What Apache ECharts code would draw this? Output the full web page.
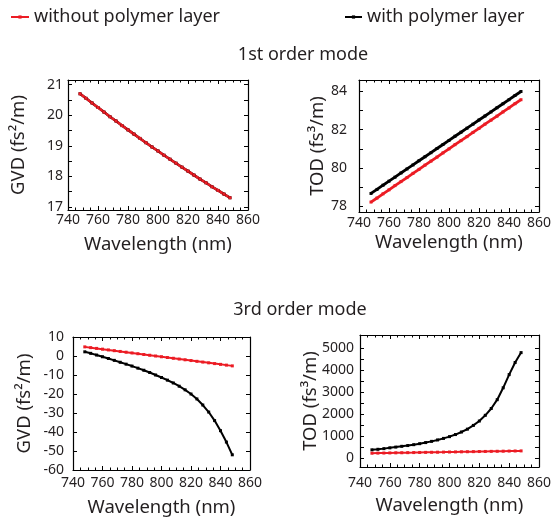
<!DOCTYPE html>
<html><head><meta charset="utf-8">
<script src="https://cdn.jsdelivr.net/npm/echarts@6/dist/echarts.min.js"></script>
<style>html,body{margin:0;padding:0;background:#fff}#c{width:554px;height:522px}</style>
</head><body><div id="c"></div>
<script>
// Wavelength (nm)
const wavelength = [748,752,756,760,764,768,772,776,780,784,788,792,796,800,804,808,812,816,820,824,828,832,836,840,844,848];
// 1st order mode GVD (fs^2/m)
const gvd1Without = [20.70,20.55,20.40,20.25,20.10,19.95,19.81,19.66,19.52,19.38,19.24,19.10,18.96,18.83,18.69,18.56,18.43,18.30,18.17,18.04,17.91,17.79,17.66,17.54,17.42,17.30];
const gvd1With    = [20.70,20.55,20.40,20.25,20.10,19.95,19.81,19.66,19.52,19.38,19.24,19.10,18.96,18.83,18.69,18.56,18.43,18.30,18.17,18.04,17.91,17.79,17.66,17.54,17.42,17.30];
// 1st order mode TOD (fs^3/m)
const tod1Without = [78.22,78.43,78.65,78.86,79.08,79.29,79.50,79.72,79.93,80.15,80.36,80.57,80.79,81.00,81.22,81.43,81.64,81.86,82.07,82.29,82.50,82.71,82.93,83.14,83.36,83.57];
const tod1With    = [78.67,78.88,79.10,79.31,79.52,79.74,79.95,80.16,80.38,80.59,80.80,81.02,81.23,81.44,81.66,81.87,82.08,82.29,82.51,82.72,82.93,83.15,83.36,83.57,83.79,84.00];
// 3rd order mode GVD (fs^2/m)
const gvd3Without = [4.8,4.4,4.0,3.6,3.2,2.8,2.4,2.0,1.6,1.2,0.8,0.4,0.0,-0.4,-0.8,-1.2,-1.6,-2.0,-2.4,-2.8,-3.2,-3.6,-4.0,-4.4,-4.8,-5.2];
const gvd3With    = [2.2,1.4,0.5,-0.4,-1.3,-2.3,-3.3,-4.3,-5.3,-6.4,-7.5,-8.7,-10.0,-11.3,-12.7,-14.2,-15.9,-17.8,-20.0,-22.6,-25.8,-29.5,-34.0,-39.3,-45.3,-52.0];
// 3rd order mode TOD (fs^3/m)
const tod3Without = [227,231,235,240,244,248,252,256,261,265,269,273,277,282,286,290,294,298,303,307,311,315,319,324,328,332];
const tod3With    = [380,405,435,470,505,540,575,615,660,710,765,830,900,980,1075,1190,1320,1490,1690,1950,2260,2660,3200,3800,4350,4800];
// Tick labels
const xTicks = [740,760,780,800,820,840,860];
const gvd1Ticks = [17,18,19,20,21];
const tod1Ticks = [78,80,82,84];
const gvd3Ticks = [-60,-50,-40,-30,-20,-10,0,10];
const tod3Ticks = [0,1000,2000,3000,4000,5000];

const labels = {
  without: 'without polymer layer',
  withP: 'with polymer layer',
  title1: '1st order mode',
  title3: '3rd order mode',
  xName: 'Wavelength (nm)',
  gvdName: 'GVD (fs²/m)',
  todName: 'TOD (fs³/m)'
};

const FONT = 'Noto Sans';
const TXT = '#231f20';
const RED = '#ec1c24';
const BLK = '#000000';

const grids = [
  {left:68, top:80, width:180, height:130},
  {left:359, top:80, width:180, height:132},
  {left:73, top:337, width:177, height:133},
  {left:360, top:335, width:180, height:132}
];
const yCfg = [
  {min:16.9, max:21.15, ticks:gvd1Ticks, minor:[17.5,18.5,19.5,20.5], name:labels.gvdName, gap:40, margin:5},
  {min:77.7, max:84.6, ticks:tod1Ticks, minor:[79,81,83], name:labels.todName, gap:32, margin:12},
  {min:-60, max:10, ticks:gvd3Ticks, minor:[], name:labels.gvdName, gap:39, margin:9},
  {min:-400, max:5600, ticks:tod3Ticks, minor:[500,1500,2500,3500,4500], name:labels.todName, gap:40, margin:6}
];
const xLabelMargin = [3,4,6,9];
const xNameGap = [25,21,28,29];
const lineW = [2.5,2.8,2,2];

const xAxes = [], yAxes = [];
grids.forEach((g,i)=>{
  const yc = yCfg[i];
  const tickVals = yc.ticks.concat(yc.minor);
  xAxes.push({
    type:'value', gridIndex:i, position:'bottom', min:740, max:860, interval:20,
    name:labels.xName, nameLocation:'middle', nameGap:xNameGap[i], nameMoveOverlap:false,
    nameTextStyle:{fontFamily:FONT, fontSize:18.5, color:TXT},
    axisLine:{show:true, onZero:false, lineStyle:{color:BLK, width:1.2}},
    axisTick:{show:true, inside:true, length:4, lineStyle:{color:BLK}},
    minorTick:{show:true, splitNumber:4, length:2.5, lineStyle:{color:BLK}},
    axisLabel:{show:true, margin:xLabelMargin[i], fontFamily:FONT, fontSize:14, color:TXT, customValues:xTicks, formatter:(v)=>String(v)},
    splitLine:{show:false}
  });
  xAxes.push({
    type:'value', gridIndex:i, position:'top', min:740, max:860, interval:20,
    axisLine:{show:true, onZero:false, lineStyle:{color:BLK, width:1.2}},
    axisTick:{show:true, inside:true, length:4, lineStyle:{color:BLK}},
    minorTick:{show:true, splitNumber:4, length:2.5, lineStyle:{color:BLK}},
    axisLabel:{show:false}, splitLine:{show:false}
  });
  yAxes.push({
    type:'value', gridIndex:i, position:'left', min:yc.min, max:yc.max,
    name:yc.name, nameLocation:'middle', nameGap:yc.gap, nameRotate:90, nameMoveOverlap:false,
    nameTextStyle:{fontFamily:FONT, fontSize:18.5, color:TXT},
    axisLine:{show:true, onZero:false, lineStyle:{color:BLK, width:1.2}},
    axisTick:{show:true, inside:true, length:4, lineStyle:{color:BLK}, customValues:tickVals},
    axisLabel:{show:true, margin:yc.margin, fontFamily:FONT, fontSize:14, color:TXT, customValues:yc.ticks, formatter:(v)=>String(v)},
    splitLine:{show:false}
  });
  yAxes.push({
    type:'value', gridIndex:i, position:'right', min:yc.min, max:yc.max,
    axisLine:{show:true, onZero:false, lineStyle:{color:BLK, width:1.2}},
    axisTick:{show:true, inside:true, length:4, lineStyle:{color:BLK}, customValues:tickVals},
    axisLabel:{show:false}, splitLine:{show:false}
  });
});

const dataSets = [
  [gvd1With, gvd1Without],
  [tod1With, tod1Without],
  [gvd3With, gvd3Without],
  [tod3With, tod3Without]
];
const series = [];
dataSets.forEach((pair,i)=>{
  const mk = (vals,name,color)=>({
    type:'line', name:name, xAxisIndex:2*i, yAxisIndex:2*i,
    data: wavelength.map((w,k)=>[w, vals[k]]),
    symbol:'rect', symbolSize:3, showSymbol:true,
    lineStyle:{color:color, width:lineW[i]}, itemStyle:{color:color},
    animation:false, z:3
  });
  series.push(mk(pair[0], labels.withP, BLK));
  series.push(mk(pair[1], labels.without, RED));
});

const chart = echarts.init(document.getElementById('c'), null, {renderer:'canvas'});
chart.setOption({
  animation:false,
  backgroundColor:'#fff',
  legend:[
    {data:[labels.without], left:10, top:8, padding:0, itemWidth:18, itemHeight:4, textStyle:{fontFamily:FONT, fontSize:18, color:TXT}, selectedMode:false},
    {data:[labels.withP], left:344, top:8, padding:0, itemWidth:17, itemHeight:4, textStyle:{fontFamily:FONT, fontSize:18, color:TXT}, selectedMode:false}
  ],
  graphic:[
    {type:'text', x:303, y:55, style:{text:labels.title1, font:'18px "Noto Sans"', fill:TXT, textAlign:'center', textVerticalAlign:'middle'}},
    {type:'text', x:300, y:310, style:{text:labels.title3, font:'18px "Noto Sans"', fill:TXT, textAlign:'center', textVerticalAlign:'middle'}}
  ],
  grid:grids,
  xAxis:xAxes,
  yAxis:yAxes,
  series:series
});
</script></body></html>
